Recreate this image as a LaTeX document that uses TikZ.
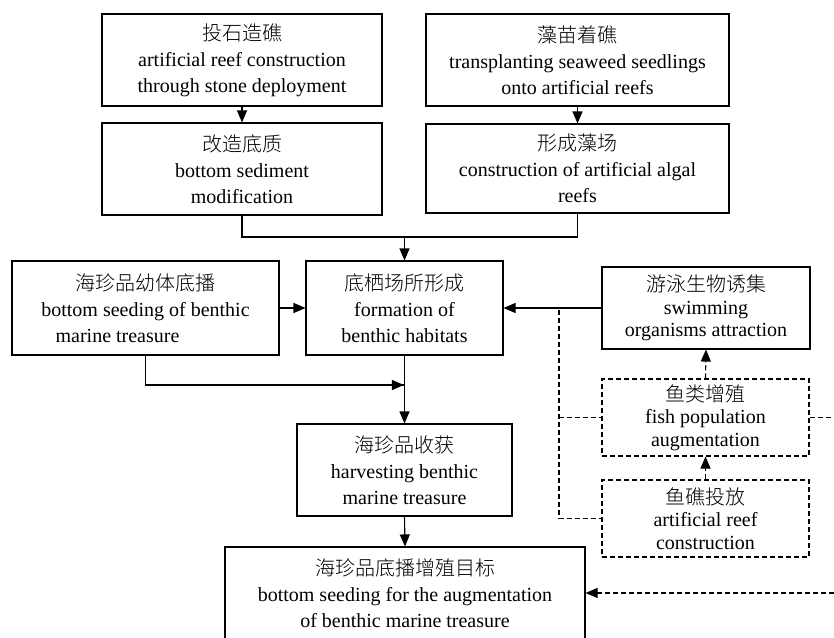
\documentclass[tikz,border=0pt]{standalone}
\usepackage{fontspec}
\setmainfont{Liberation Serif}
\newfontfamily\cjk{Noto Sans CJK SC Light}
\usetikzlibrary{arrows.meta}
\begin{document}
\begin{tikzpicture}[x=1pt,y=-1pt,
  box/.style={draw, line width=1.1pt, rectangle, align=center, inner sep=0pt,
    font=\fontsize{20}{26}\selectfont},
  dbox/.style={box, dash pattern=on 5pt off 3pt, font=\fontsize{20}{22.5}\selectfont},
  arr/.style={line width=1.1pt, -{Triangle[length=12pt,width=10pt]}},
  ln/.style={line width=1.1pt},
  darr/.style={line width=1.1pt, dash pattern=on 5pt off 3pt, -{Triangle[length=12pt,width=10pt]}},
  dln/.style={line width=1.1pt, dash pattern=on 5pt off 3pt}]
\useasboundingbox (0,0) rectangle (834,637);
\node[box, minimum width=280pt, minimum height=92pt] (b1) at (242,60)
  {{\cjk 投石造礁}\\artificial reef construction\\through stone deployment};
\node[box, minimum width=280pt, minimum height=92pt] (b2) at (242,169)
  {{\cjk 改造底质}\\bottom sediment\\modification};
\node[box, minimum width=303pt, minimum height=92pt] (b3) at (577.5,60)
  {{\cjk 藻苗着礁}\\transplanting seaweed seedlings\\onto artificial reefs};
\node[box, minimum width=303pt, minimum height=89pt] (b4) at (577.5,168.5)
  {{\cjk 形成藻场}\\construction of artificial algal\\reefs};
\node[box, minimum width=267pt, minimum height=94pt] (b5) at (145.5,308)
  {{\cjk 海珍品幼体底播}\\bottom seeding of benthic\\marine treasure\hspace*{56pt}};
\node[box, minimum width=197pt, minimum height=94pt] (b6) at (404.5,308)
  {{\cjk 底栖场所形成}\\formation of\\benthic habitats};
\node[box, minimum width=208pt, minimum height=82pt, font=\fontsize{20}{22.5}\selectfont] (b7) at (706,308)
  {{\cjk 游泳生物诱集}\\swimming\\organisms attraction};
\node[box, minimum width=215pt, minimum height=92pt] (b8) at (404.5,470)
  {{\cjk 海珍品收获}\\harvesting benthic\\marine treasure};
\node[box, minimum width=360pt, minimum height=92pt] (b9) at (405,593)
  {{\cjk 海珍品底播增殖目标}\\bottom seeding for the augmentation\\of benthic marine treasure};
\node[dbox, minimum width=207pt, minimum height=77pt] (f1) at (705.5,417.5)
  {{\cjk 鱼类增殖}\\fish population\\augmentation};
\node[dbox, minimum width=207pt, minimum height=77pt] (f2) at (705.5,518.5)
  {{\cjk 鱼礁投放}\\artificial reef\\construction};
% coordinates
\coordinate (j1) at (242,237);
\coordinate (j2) at (577.5,237);
\coordinate (j3) at (404.5,237);
\coordinate (k1) at (145.5,385);
\coordinate (k2) at (404.5,385);
\coordinate (d0) at (559,310);
\coordinate (d1) at (559,417.5);
\coordinate (d2) at (559,518.5);
\coordinate (r1) at (834,417.5);
\coordinate (r2) at (834,593);
% solid connectors
\draw[arr] (b1) -- (b2);
\draw[arr] (b3) -- (b4);
\draw[ln] (b2.south) -- (j1) -- (j2) -- (b4.south);
\draw[arr] (j3) -- (b6.north);
\draw[arr] (b5.east) -- (b6.west);
\draw[arr] (b7.west) -- (b6.east);
\draw[ln] (b5.south) -- (k1) -- (k2);
\draw[arr] (k1) -- ([xshift=-0.6pt]k2);
\draw[arr] (b6.south) -- (b8.north);
\draw[arr] (b8.south) -- (b9.north);
% dashed connectors
\draw[dln] (d0) -- (d2) -- (f2.west);
\draw[dln] (d1) -- (f1.west);
\draw[darr] (f2.north) -- (f1.south);
\draw[darr] (f1.north) -- (b7.south);
\draw[dln] (f1.east) -- (r1);
\draw[darr] (r2) -- (b9.east);
\end{tikzpicture}
\end{document}
